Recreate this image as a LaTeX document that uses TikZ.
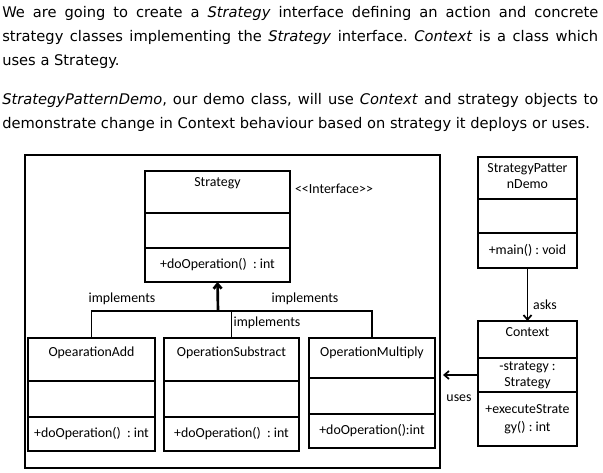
\documentclass[tikz,border=0pt]{standalone}
\usepackage{fontspec}
\setmainfont{Carlito}
\newfontfamily\parafont{DejaVu Sans}
\usetikzlibrary{arrows.meta,positioning}
\frenchspacing

\begin{document}
\begin{tikzpicture}[x=0.75pt,y=-0.75pt, font=\fontsize{10.4}{12.5}\selectfont]
\tikzset{part/.style={draw, line width=1.5pt, outer sep=0pt, inner sep=1pt, align=center},
  title/.style={inner sep=0pt, align=center},
  para/.style={inner sep=0pt, anchor=north west, text width=447pt, align=justify, font=\parafont\fontsize{11}{18}\selectfont},
  link/.style={line width=1.3pt},
  tip/.style={-{Straight Barb[length=3.5pt,width=6pt]}}}
\useasboundingbox (0,0) rectangle (603,473);

% text above the diagram
\node[para] (intro) at (2,6) {We are going to create a \textit{Strategy} interface defining an action and concrete\linebreak strategy classes implementing the \textit{Strategy} interface. \textit{Context} is a class which\linebreak uses a Strategy.};
\node[para] (demo) at (2,93) {\parfillskip=0pt \textit{StrategyPatternDemo}, our demo class, will use \textit{Context} and strategy objects to\linebreak demonstrate change in Context behaviour based on strategy it deploys or uses.};

% frame round the strategies
\node[draw, line width=1.5pt, minimum width=311.25pt, minimum height=234.75pt, anchor=north west] (frame) at (24,154) {};

% Strategy interface
\node[part, anchor=north west, minimum width=108.75pt, minimum height=31.5pt] (strategy) at (145,171) {};
\node[part, below=0pt of strategy, minimum width=108.75pt, minimum height=26.25pt] (strategyattr) {};
\node[part, below=0pt of strategyattr, minimum width=108.75pt, minimum height=25.5pt] (strategyop) {+doOperation()\ \ : int};
\node[title, below=4.5pt of strategy.north] {Strategy};
\node[title] (iface) at (334,189) {\textless\kern0pt\textless\kern0pt Interface\kern0pt\textgreater\kern0pt\textgreater};

% concrete strategies
\node[part, anchor=north west, minimum width=95.25pt, minimum height=32.25pt] (add) at (28,338) {};
\node[part, below=0pt of add, minimum width=95.25pt, minimum height=27pt] (addattr) {};
\node[part, below=0pt of addattr, minimum width=95.25pt, minimum height=25.5pt] (addop) {+doOperation()\ \ : int};
\node[title, below=6.5pt of add.north] {OpearationAdd};

\node[part, anchor=north west, minimum width=101.25pt, minimum height=32.25pt] (sub) at (164,338) {};
\node[part, below=0pt of sub, minimum width=101.25pt, minimum height=27pt] (subattr) {};
\node[part, below=0pt of subattr, minimum width=101.25pt, minimum height=25.5pt] (subop) {+doOperation()\ \ : int};
\node[title, below=6.5pt of sub.north] {OperationSubstract};

\node[part, anchor=north west, minimum width=94.5pt, minimum height=30pt] (mul) at (309,338) {};
\node[part, below=0pt of mul, minimum width=94.5pt, minimum height=27pt] (mulattr) {};
\node[part, below=0pt of mulattr, minimum width=94.5pt, minimum height=25.5pt] (mulop) {+doOperation():int};
\node[title, below=6.5pt of mul.north] {OperationMultiply};

% demo class and context
\node[part, anchor=north west, minimum width=74.25pt, minimum height=31.5pt] (main) at (478,157) {};
\node[part, below=0pt of main, minimum width=74.25pt, minimum height=25.5pt] (mainattr) {};
\node[part, below=0pt of mainattr, minimum width=74.25pt, minimum height=26.25pt] (mainop) {+main() : void};
\node[title, below=4.5pt of main.north] {StrategyPatter\\nDemo};

\node[part, anchor=north west, minimum width=74.25pt, minimum height=27.75pt] (context) at (478,321) {};
\node[part, below=0pt of context, minimum width=74.25pt, minimum height=25.5pt] (contextattr) {-strategy :\\[-0.5pt]Strategy};
\node[part, below=0pt of contextattr, minimum width=74.25pt, minimum height=40.5pt] (contextop) {+executeStrate\\[1pt]gy() : int};
\node[title, below=4.5pt of context.north] {Context};

% connectors
\coordinate (hub) at (218,311);
\draw[link, line width=2pt, tip] (hub) -- (strategyop.south);
\draw[link] (add.north) |- (mul.north |- hub) -- (mul.north);
\draw[link] (sub.north) -- (sub.north |- hub);
\draw[link, tip] (mainop.south) -- (context.north);
\draw[link, tip, shorten >=1.5pt] (contextattr.west) -- (contextattr.west -| frame.east);

\node[title] (impl1) at (122,299) {implements};
\node[title] (impl2) at (305,299) {implements};
\node[title] (impl3) at (267,323) {implements};
\node[title] (asks) at (545,305) {asks};
\node[title] (uses) at (459,398) {uses};
\end{tikzpicture}
\end{document}
